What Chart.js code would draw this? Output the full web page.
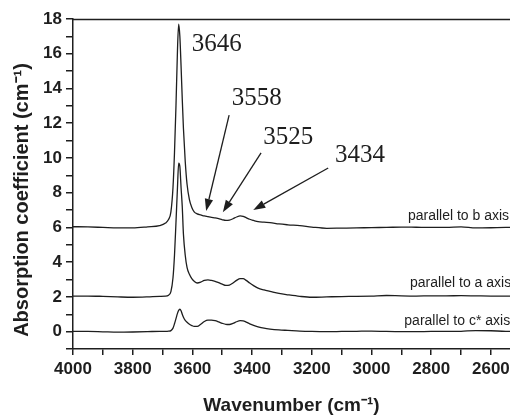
<!DOCTYPE html>
<html><head><meta charset="utf-8">
<script src="https://cdn.jsdelivr.net/npm/chart.js@4.4.1/dist/chart.umd.min.js"></script>
<style>html,body{margin:0;padding:0;background:#fff;}canvas{display:block;}</style>
</head><body>
<canvas id="c" width="510" height="415"></canvas>
<script>
// ---- data ----
const wavenumbers = [4000,3950,3900,3850,3800,3750,3710,3690,3680,3672,3665,3660,3655,3650,3646,3642,3638,3634,3630,3624,3618,3610,3602,3594,3584,3572,3560,3548,3536,3524,3512,3500,3488,3476,3464,3452,3440,3430,3420,3408,3395,3380,3360,3340,3310,3280,3240,3200,3150,3100,3050,3000,2950,2900,2850,2800,2750,2700,2650,2600,2550,2536];
const absB = [6.04,6.03,6.0,5.97,5.97,6.03,6.1,6.25,6.45,6.9,8.3,10.3,13.0,16.2,17.7,17.0,15.3,13.4,11.7,9.8,8.5,7.6,7.15,6.9,6.78,6.72,6.66,6.62,6.58,6.55,6.5,6.44,6.4,6.42,6.5,6.6,6.66,6.64,6.56,6.47,6.4,6.33,6.3,6.28,6.2,6.15,6.1,6.02,5.95,5.96,5.97,5.99,6.0,6.02,6.01,6.0,6.0,6.03,5.97,5.98,6.0,6.0];
const absA = [2.05,2.05,2.03,2.0,1.98,2.0,2.03,2.04,2.1,2.3,3.1,4.4,6.3,8.3,9.7,9.5,8.3,7.2,5.6,4.4,3.7,3.3,3.05,2.9,2.8,2.85,2.95,2.98,2.95,2.9,2.82,2.73,2.66,2.68,2.8,2.95,3.05,3.05,2.95,2.8,2.65,2.5,2.4,2.32,2.2,2.12,2.03,1.98,2.0,2.02,2.03,2.05,2.08,2.06,2.05,2.06,2.06,2.07,2.06,2.05,2.05,2.05];
const absC = [0.02,0.01,-0.01,-0.03,-0.02,0.0,0.02,0.02,0.03,0.06,0.2,0.45,0.75,1.05,1.22,1.29,1.2,1.0,0.83,0.65,0.54,0.43,0.35,0.3,0.3,0.42,0.58,0.66,0.66,0.63,0.56,0.48,0.42,0.41,0.47,0.57,0.63,0.62,0.55,0.45,0.36,0.28,0.2,0.15,0.1,0.07,0.03,0.01,0.0,0.01,0.02,0.03,0.01,0.0,0.0,0.01,0.01,0.02,0.06,0.05,0.02,0.02];
const seriesNames = ['parallel to b axis','parallel to a axis','parallel to c* axis'];
const xTickValues = [4000,3900,3800,3700,3600,3500,3400,3300,3200,3100,3000,2900,2800,2700,2600];
const xLabelEvery = 200;
const yTickValues = [-1,0,1,2,3,4,5,6,7,8,9,10,11,12,13,14,15,16,17,18];
const yLabelEvery = 2;
const peakLabels = ['3646','3558','3525','3434'];
const xTitle = 'Wavenumber (cm\u207B\u00B9)';
const yTitle = 'Absorption coefficient (cm\u207B\u00B9)';

// ---- annotation placement (data coordinates) ----
const peakLabelPos = [{x:3602,y:16.56},{x:3468,y:13.42},{x:3363,y:11.17},{x:3122,y:10.16}];
const peakArrows = [null,{x0:3477,y0:12.46,x1:3554,y1:6.95},{x0:3370,y0:10.29,x1:3498,y1:6.88},{x0:3145,y0:9.42,x1:3396,y1:7.0}];
const seriesLabelPos = [{x:2878,y:6.64},{x:2871,y:2.8},{x:2890,y:0.58}];

const SANS = '"Liberation Sans", Arial, Helvetica, sans-serif';
const INK = '#1e1e1e';

function toPoints(vals){ return wavenumbers.map((w,i)=>({x:w,y:vals[i]})); }
function ds(label, vals){
  return {label, data: toPoints(vals), borderColor: INK, borderWidth: 1.3, pointRadius: 0,
    fill:false, cubicInterpolationMode:'monotone'};
}

const annotPlugin = {
  id:'annot',
  afterDatasetsDraw(chart){
    const {ctx, scales:{x,y}, chartArea} = chart;
    ctx.save();
    ctx.strokeStyle = INK; ctx.lineWidth = 1.3;
    ctx.beginPath(); ctx.moveTo(chartArea.left, chartArea.top+0.5); ctx.lineTo(chartArea.right, chartArea.top+0.5); ctx.stroke();
    ctx.fillStyle = INK;
    ctx.font = '25px "Liberation Serif", "Times New Roman", serif';
    ctx.textAlign = 'left'; ctx.textBaseline = 'middle';
    peakLabels.forEach((t,i)=>{
      ctx.fillText(t, x.getPixelForValue(peakLabelPos[i].x), y.getPixelForValue(peakLabelPos[i].y));
    });
    ctx.lineWidth = 1.3;
    peakArrows.forEach(a=>{
      if(!a) return;
      const X0=x.getPixelForValue(a.x0), Y0=y.getPixelForValue(a.y0);
      const X1=x.getPixelForValue(a.x1), Y1=y.getPixelForValue(a.y1);
      const ang=Math.atan2(Y1-Y0,X1-X0), L=12, W=4.2;
      const bx=X1-L*Math.cos(ang), by=Y1-L*Math.sin(ang);
      ctx.beginPath(); ctx.moveTo(X0,Y0); ctx.lineTo(bx,by); ctx.stroke();
      ctx.beginPath(); ctx.moveTo(X1,Y1);
      ctx.lineTo(bx+W*Math.sin(ang), by-W*Math.cos(ang));
      ctx.lineTo(bx-W*Math.sin(ang), by+W*Math.cos(ang));
      ctx.closePath(); ctx.fill();
    });
    ctx.font = '14px ' + SANS;
    seriesNames.forEach((t,i)=>{
      ctx.fillText(t, x.getPixelForValue(seriesLabelPos[i].x), y.getPixelForValue(seriesLabelPos[i].y));
    });
    ctx.font = 'bold 20px ' + SANS;
    ctx.textAlign='center'; ctx.textBaseline='middle';
    ctx.translate(22, 200); ctx.rotate(-Math.PI/2);
    ctx.fillText(yTitle, 0, 0);
    ctx.restore();
  }
};

new Chart(document.getElementById('c'), {
  type:'line',
  data:{ datasets:[ds(seriesNames[0],absB), ds(seriesNames[1],absA), ds(seriesNames[2],absC)] },
  options:{
    responsive:false, animation:false, devicePixelRatio:1,
    layout:{padding:{top:19,left:0,right:0,bottom:0}},
    plugins:{legend:{display:false}, tooltip:{enabled:false}},
    scales:{
      x:{
        type:'linear', reverse:true, min:2536, max:4000,
        afterBuildTicks(s){ s.ticks = xTickValues.map(v=>({value:v})); },
        afterFit(s){ s.height = 66; s.paddingLeft=0; s.paddingRight=0; },
        ticks:{ autoSkip:false, maxRotation:0, padding:4, color:INK,
          font:{family:SANS, size:17, weight:'bold'},
          callback:(v)=> (v % xLabelEvery === 0 ? String(v) : '') },
        grid:{ drawOnChartArea:false, drawTicks:true, tickLength:6, color:INK, lineWidth:1.5 },
        border:{ display:true, color:INK, width:1.5 },
        title:{ display:true, text:xTitle, color:INK, padding:{top:0,bottom:0},
          font:{family:SANS, size:19, weight:'bold', lineHeight:1} }
      },
      y:{
        type:'linear', min:-1, max:18,
        afterBuildTicks(s){ s.ticks = yTickValues.map(v=>({value:v})); },
        afterFit(s){ s.width = 73; s.paddingTop=0; s.paddingBottom=0; },
        ticks:{ autoSkip:false, padding:4, color:INK,
          font:{family:SANS, size:17, weight:'bold'},
          callback:(v)=> (v % yLabelEvery === 0 ? String(v) : '') },
        grid:{ drawOnChartArea:false, drawTicks:true, tickLength:7, color:INK, lineWidth:1.5 },
        border:{ display:true, color:INK, width:1.5 }
      }
    }
  },
  plugins:[annotPlugin]
});
</script>
</body></html>
